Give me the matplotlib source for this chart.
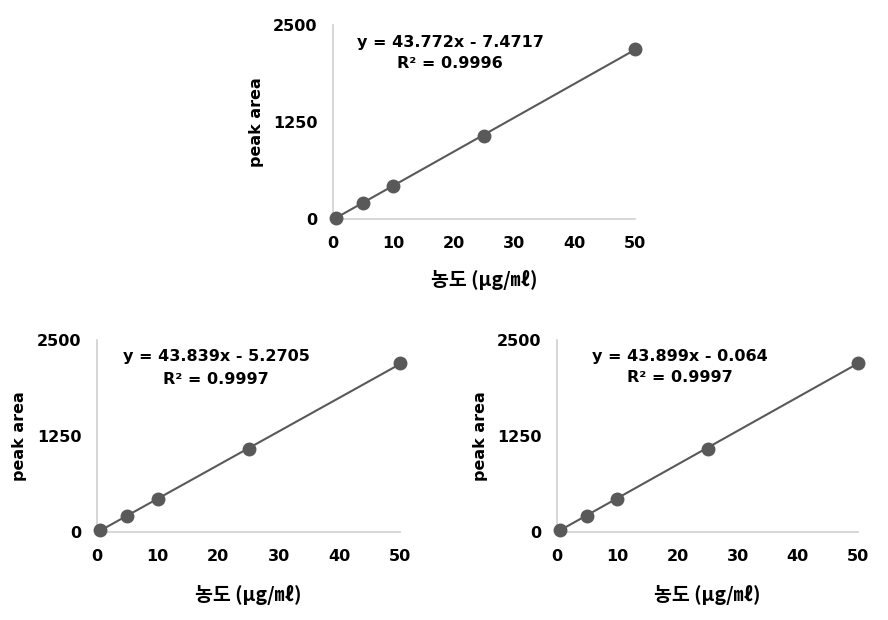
import matplotlib
matplotlib.use("Agg")
import matplotlib.pyplot as plt
import numpy as np

conc = [0.5, 5, 10, 25, 50]
area_top = [18, 200, 420, 1065, 2190]
area_bl = [20, 205, 425, 1075, 2195]
area_br = [22, 210, 428, 1080, 2200]

fits = [(43.772, -7.4717, 0.9996), (43.839, -5.2705, 0.9997), (43.899, -0.064, 0.9997)]
eq_texts = ["y = 43.772x - 7.4717", "y = 43.839x - 5.2705", "y = 43.899x - 0.064"]
r2_texts = ["R² = 0.9996", "R² = 0.9997", "R² = 0.9997"]

x_ticks = [0, 10, 20, 30, 40, 50]
y_ticks = [0, 1250, 2500]
xlabel = "농도 (μg/㎖)"
ylabel = "peak area"

W, H = 888, 620
fig = plt.figure(figsize=(W / 100, H / 100), dpi=100)

# (left, right, bottom, top) pixel bounds
boxes = [(333, 635, 219, 25), (97, 400, 532, 340), (557, 858, 532, 340)]
eq_pos = [(450, 42, 63), (216, 357, 379), (680, 356, 378)]
ylab_x = [256, 20, 480]
xlab_y = [280, 595, 595]
datas = [area_top, area_bl, area_br]

line_col = "#595959"
spine_col = "#d0d0d0"

for i, (l, r, b, t) in enumerate(boxes):
    ax = fig.add_axes([l / W, 1 - b / H, (r - l) / W, (b - t) / H])
    ax.set_xlim(0, 50)
    ax.set_ylim(0, 2500)
    slope, icpt, _ = fits[i]
    xs = np.array([conc[0], conc[-1]])
    ax.plot(xs, slope * xs + icpt, color=line_col, lw=1.5, zorder=2, clip_on=False)
    ax.plot(conc, datas[i], "o", color=line_col, ms=9, zorder=3, clip_on=False)
    for s in ["top", "right"]:
        ax.spines[s].set_visible(False)
    for s in ["left", "bottom"]:
        ax.spines[s].set_color(spine_col)
        ax.spines[s].set_linewidth(1.2)
    ax.set_xticks(x_ticks)
    ax.set_yticks(y_ticks)
    ax.tick_params(axis="x", length=0, pad=12, labelsize=11.5)
    ax.tick_params(axis="y", length=0, pad=11, labelsize=11.5)
    for lab in ax.get_xticklabels() + ax.get_yticklabels():
        lab.set_fontweight("bold")
        lab.set_family("DejaVu Sans")
    ex, ey1, ey2 = eq_pos[i]
    fig.text(ex / W, 1 - ey1 / H, eq_texts[i], ha="center", va="center",
             fontsize=11.5, fontweight="bold", family="DejaVu Sans")
    fig.text(ex / W, 1 - ey2 / H, r2_texts[i], ha="center", va="center",
             fontsize=11.5, fontweight="bold", family="DejaVu Sans")
    fig.text(ylab_x[i] / W, 1 - ((b + t) / 2) / H, ylabel, rotation=90, ha="center",
             va="center", fontsize=11.5, fontweight="bold", family="DejaVu Sans")
    fig.text(((l + r) / 2) / W, 1 - xlab_y[i] / H, xlabel, ha="center", va="center",
             fontsize=14, fontweight="bold", family=["Noto Sans CJK KR", "DejaVu Sans"])

fig.savefig("out.png", dpi=100)
